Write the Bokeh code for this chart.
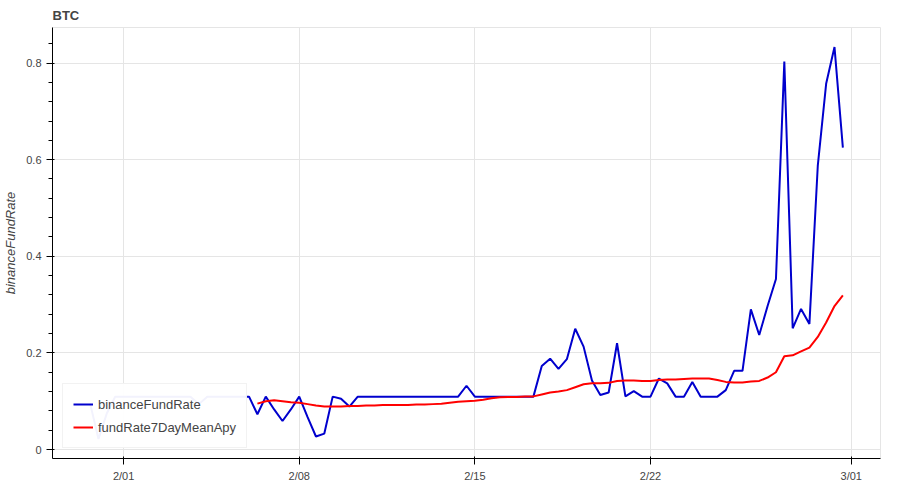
import pandas as pd
from bokeh.plotting import figure
from bokeh.models import DatetimeTickFormatter, ColumnDataSource
from bokeh.embed import file_html
from bokeh.resources import INLINE

# 8-hourly timestamps
start_time = "2024-01-30 16:00"
n_points = 91

binance_fund_rate = [
    0.095, 0.022, 0.075, 0.1095, 0.1095, 0.1095, 0.1095, 0.1095, 0.1095, 0.1095,
    0.1095, 0.1095, 0.1095, 0.094, 0.1095, 0.1095, 0.1095, 0.1095, 0.1095, 0.1095,
    0.073, 0.1095, 0.083, 0.059, 0.083, 0.1095, 0.067, 0.027, 0.033, 0.1095,
    0.105, 0.089, 0.1095, 0.1095, 0.1095, 0.1095, 0.1095, 0.1095, 0.1095, 0.1095,
    0.1095, 0.1095, 0.1095, 0.1095, 0.1095, 0.132, 0.1095, 0.1095, 0.1095, 0.1095,
    0.1095, 0.1095, 0.1095, 0.1095, 0.173, 0.188, 0.167, 0.187, 0.250, 0.213,
    0.143, 0.113, 0.118, 0.220, 0.110, 0.121, 0.1095, 0.1095, 0.147, 0.137,
    0.1095, 0.1095, 0.140, 0.1095, 0.1095, 0.1095, 0.123, 0.163, 0.163, 0.290,
    0.237, 0.297, 0.353, 0.803, 0.251, 0.291, 0.260, 0.587, 0.757, 0.833,
    0.625,
]

# 7-day mean starts at the 21st point
mean_offset = 20
fund_rate_7day_mean_apy = [
    0.095, 0.100, 0.102, 0.100, 0.098, 0.097, 0.094, 0.091, 0.089, 0.089,
    0.089, 0.090, 0.090, 0.091, 0.091, 0.092, 0.092, 0.092, 0.092, 0.093,
    0.093, 0.094, 0.095, 0.097, 0.099, 0.100, 0.101, 0.103, 0.106, 0.108,
    0.109, 0.109, 0.110, 0.110, 0.114, 0.118, 0.120, 0.123, 0.129, 0.135,
    0.137, 0.137, 0.138, 0.142, 0.143, 0.143, 0.142, 0.142, 0.144, 0.145,
    0.145, 0.146, 0.147, 0.147, 0.147, 0.144, 0.140, 0.139, 0.139, 0.141,
    0.142, 0.149, 0.160, 0.193, 0.195, 0.203, 0.211, 0.233, 0.263, 0.297,
    0.319,
]

times = pd.date_range(start_time, periods=n_points, freq="8h")

src_rate = ColumnDataSource(dict(t=times, v=binance_fund_rate))
src_mean = ColumnDataSource(dict(t=times[mean_offset:], v=fund_rate_7day_mean_apy))

p = figure(width=884, height=484, x_axis_type="datetime", title="BTC",
           output_backend="svg", toolbar_location=None)
p.min_border = 0
p.min_border_right = 4
p.min_border_bottom = 0
p.min_border_left = 0
p.min_border_top = 0

p.line("t", "v", source=src_rate, line_color="mediumblue", line_width=2,
       legend_label="binanceFundRate")
p.line("t", "v", source=src_mean, line_color="red", line_width=2,
       legend_label="fundRate7DayMeanApy")

p.xaxis.formatter = DatetimeTickFormatter(days="%-m/%d", months="%-m/%d")
p.yaxis.axis_label = "binanceFundRate"
p.title.text_color = "#444444"
p.legend.location = "bottom_left"

open("out.html", "w").write(file_html(p, INLINE))
